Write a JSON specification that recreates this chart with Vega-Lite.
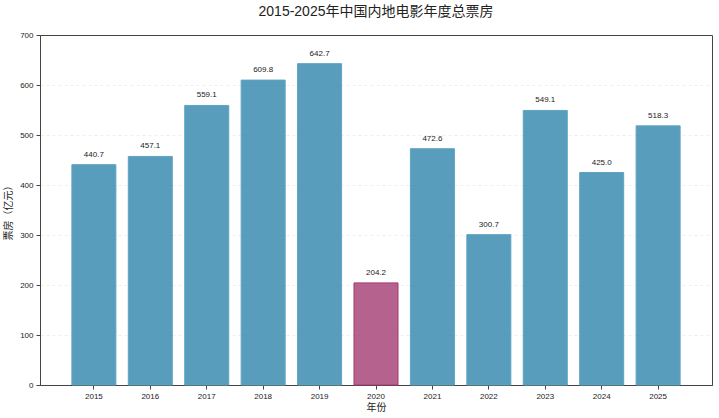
{
  "$schema": "https://vega.github.io/schema/vega-lite/v6.json",
  "width": 672,
  "height": 350,
  "autosize": {"type": "none"},
  "padding": {"left": 40, "top": 35, "right": 7, "bottom": 33},
  "background": "white",
  "title": {
    "text": "2015-2025年中国内地电影年度总票房",
    "font": "Liberation Sans, Noto Sans CJK SC",
    "fontSize": 14,
    "fontWeight": "normal",
    "color": "#222222",
    "offset": 12
  },
  "config": {
    "view": {"stroke": "#444444", "strokeWidth": 1},
    "font": "Liberation Sans, Noto Sans CJK SC"
  },
  "data": {
    "values": [
      {"year": "2015", "box": 440.7, "type": "normal"},
      {"year": "2016", "box": 457.1, "type": "normal"},
      {"year": "2017", "box": 559.1, "type": "normal"},
      {"year": "2018", "box": 609.8, "type": "normal"},
      {"year": "2019", "box": 642.7, "type": "normal"},
      {"year": "2020", "box": 204.2, "type": "covid"},
      {"year": "2021", "box": 472.6, "type": "normal"},
      {"year": "2022", "box": 300.7, "type": "normal"},
      {"year": "2023", "box": 549.1, "type": "normal"},
      {"year": "2024", "box": 425.0, "type": "normal"},
      {"year": "2025", "box": 518.3, "type": "normal"}
    ]
  },
  "encoding": {
    "x": {
      "field": "year",
      "type": "ordinal",
      "scale": {"paddingInner": 0.22, "paddingOuter": 0.565},
      "axis": {
        "title": "年份",
        "titleFontSize": 10,
        "titleFontWeight": "normal",
        "titleColor": "#222222",
        "titlePadding": 2,
        "labelAngle": 0,
        "labelFontSize": 8,
        "labelColor": "#222222",
        "labelPadding": 3,
        "tickColor": "#444444",
        "tickSize": 4,
        "domainColor": "#444444",
        "grid": false
      }
    },
    "y": {
      "field": "box",
      "type": "quantitative",
      "scale": {"domain": [0, 700], "nice": false},
      "axis": {
        "title": "票房（亿元）",
        "titleFontSize": 10,
        "titleFontWeight": "normal",
        "titleColor": "#222222",
        "titlePadding": 6,
        "values": [0, 100, 200, 300, 400, 500, 600, 700],
        "labelFontSize": 8,
        "labelColor": "#222222",
        "labelPadding": 3,
        "tickColor": "#444444",
        "tickSize": 4,
        "domainColor": "#444444",
        "grid": true,
        "gridColor": "#e4e4e4",
        "gridDash": [3, 3],
        "gridWidth": 0.6,
        "gridOpacity": {"condition": {"test": "datum.value === 700 || datum.value === 0", "value": 0}, "value": 1}
      }
    }
  },
  "layer": [
    {
      "mark": {"type": "bar", "fillOpacity": 0.8, "strokeWidth": 1},
      "encoding": {
        "fill": {
          "field": "type",
          "type": "nominal",
          "scale": {"domain": ["normal", "covid"], "range": ["#2E86AB", "#A23B72"]},
          "legend": null
        },
        "stroke": {
          "field": "type",
          "type": "nominal",
          "scale": {"domain": ["normal", "covid"], "range": ["#5fa3c2", "#A23B72"]},
          "legend": null
        }
      }
    },
    {
      "mark": {"type": "text", "baseline": "bottom", "dy": -6, "fontSize": 8, "color": "#222222"},
      "encoding": {
        "text": {"field": "box", "type": "quantitative", "format": ".1f"}
      }
    }
  ]
}
